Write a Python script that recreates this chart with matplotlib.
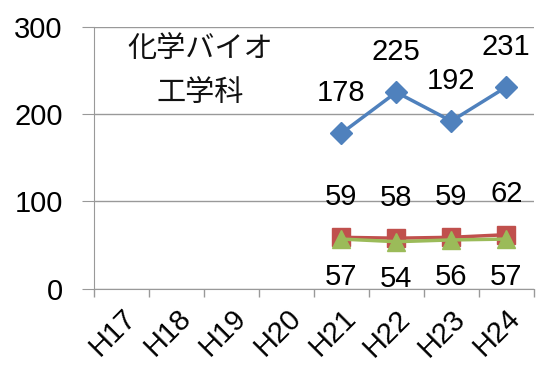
import numpy as np
import matplotlib.pyplot as plt

years = ["H17", "H18", "H19", "H20", "H21", "H22", "H23", "H24"]
blue_vals = [None, None, None, None, 178, 225, 192, 231]
red_vals = [None, None, None, None, 59, 58, 59, 62]
green_vals = [None, None, None, None, 57, 54, 56, 57]
title = "化学バイオ\n工学科"

plt.rcParams['font.family'] = ['Liberation Sans', 'DejaVu Sans']

fig = plt.figure(figsize=(5.37, 3.68), dpi=100)
ax = fig.add_axes([0.175, 0.215, 0.819, 0.7125])

x = np.arange(len(years))


def to_arr(vals):
    return np.array([np.nan if v is None else v for v in vals], dtype=float)


def draw(vals, color, marker, ms, offset):
    y = to_arr(vals)
    ax.plot(x, y, color=color, lw=2.5, marker=marker, ms=ms, zorder=3)
    for xi, yi in zip(x, y):
        if np.isnan(yi):
            continue
        ax.annotate(f"{int(yi)}", (xi, yi), xytext=(0, offset), textcoords="offset points",
                    ha="center", va="center", fontsize=21, color="black", zorder=4)


draw(blue_vals, "#4F81BD", "D", 11, 29)
draw(red_vals, "#C0504D", "s", 13, 29)
draw(green_vals, "#9BBB59", "^", 13, -27)

ax.set_xlim(-0.5, len(years) - 0.5)
ax.set_ylim(0, 300)
ax.set_yticks([0, 100, 200, 300])
ax.set_xticks(x)
ax.set_xticklabels(years, rotation=45, ha="right", rotation_mode="anchor", fontsize=21)
ax.set_xticks(np.arange(-0.5, len(years)), minor=True)
ax.tick_params(axis="x", which="major", length=0, pad=11)
ax.tick_params(axis="x", which="minor", length=6, color="#999999", width=1)
ax.tick_params(axis="y", length=8.5, color="#999999", labelsize=21, pad=14)

ax.grid(axis="y", color="#999999", lw=1)
ax.set_axisbelow(True)
for side in ["top", "right"]:
    ax.spines[side].set_visible(False)
for side in ["left", "bottom"]:
    ax.spines[side].set_color("#999999")

ax.text(1.43, 249, title, ha="center", va="center", fontsize=21, linespacing=1.6,
        family=["Noto Sans CJK JP", "DejaVu Sans"], color="#111111")

fig.savefig("out.png", dpi=100)
